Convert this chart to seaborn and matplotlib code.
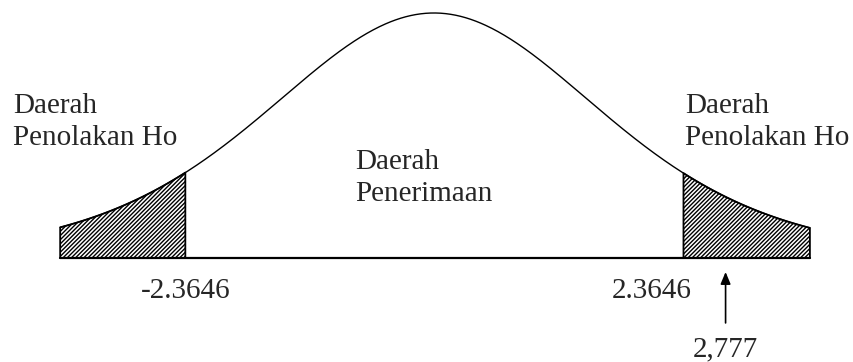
import numpy as np
import pandas as pd
import matplotlib
matplotlib.use("Agg")
import matplotlib.pyplot as plt
import seaborn as sns

# Values from the chart
t_crit = 2.3646          # critical value (two-tailed, df = 7)
t_obs = 2.777            # observed t statistic
df_t = 7
spread = 1.63            # drawing spread of the sketched curve
x_ends = [-3.56, 3.58]   # where the sketched curve stops

region_reject = "Daerah\nPenolakan Ho"
region_accept = "Daerah\nPenerimaan"

# Curve table
u = np.linspace(x_ends[0], x_ends[1], 600)
dens = (1 + (u / spread) ** 2 / df_t) ** (-(df_t + 1) / 2)
curve = pd.DataFrame({"t": u, "density": dens})

# Styling
sns.set_theme(style="white")
plt.rcParams["font.family"] = ["Liberation Serif", "DejaVu Serif"]
plt.rcParams["hatch.linewidth"] = 1.0
plt.rcParams["hatch.color"] = "black"

fig = plt.figure(figsize=(8.54, 3.62), dpi=100)
ax = fig.add_axes([0, 0, 1, 1])

sns.lineplot(data=curve, x="t", y="density", color="black", linewidth=1.0, ax=ax, zorder=3)

# Shaded rejection regions
left = curve[curve["t"] <= -t_crit]
right = curve[curve["t"] >= t_crit]
for part in (left, right):
    ax.fill_between(part["t"], 0, part["density"], facecolor="white",
                    edgecolor="black", hatch="////////", linewidth=1.3, zorder=2)

# Baseline
ax.plot(x_ends, [0, 0], color="black", linewidth=1.6, zorder=4)

ax.set_xlim(-4.133, 4.0)
ax.set_ylim(-0.4245, 1.053)
ax.axis("off")

fs = 21
ax.text(-4.01, 0.675, region_reject, fontsize=fs, ha="left", va="top", linespacing=1.3)
ax.text(2.39, 0.675, region_reject, fontsize=fs, ha="left", va="top", linespacing=1.3)
ax.text(-0.752, 0.445, region_accept, fontsize=fs, ha="left", va="top", linespacing=1.3)

ax.text(-t_crit, -0.08, f"-{t_crit}", fontsize=fs, ha="center", va="top")
ax.text(t_crit + 0.09, -0.08, f"{t_crit}", fontsize=fs, ha="right", va="top")

ax.annotate("", xy=(t_obs, -0.057), xytext=(t_obs, -0.265),
            arrowprops=dict(arrowstyle="-|>,head_length=0.6,head_width=0.25",
                            color="black", lw=1.2, shrinkA=0, shrinkB=0))
ax.text(t_obs, -0.32, f"{t_obs}".replace(".", ","), fontsize=fs, ha="center", va="top")

fig.savefig("out.png", dpi=100)
